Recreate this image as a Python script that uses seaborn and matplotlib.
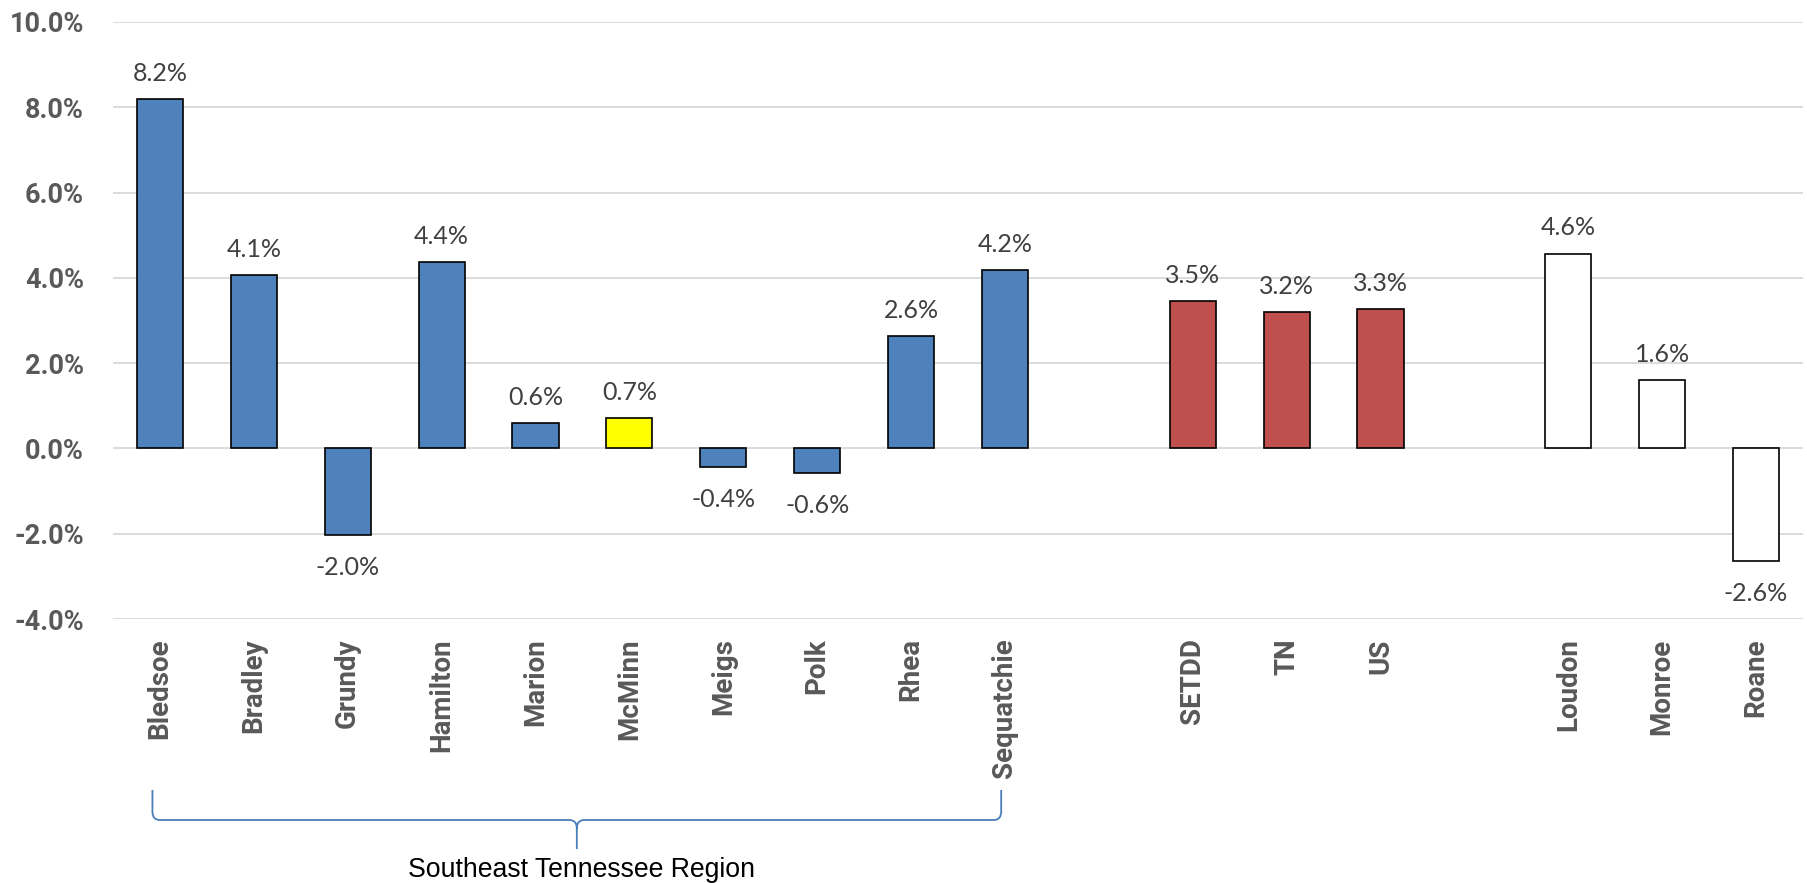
import matplotlib
matplotlib.use("Agg")
import matplotlib.pyplot as plt
from matplotlib.path import Path
from matplotlib.patches import PathPatch
import seaborn as sns
import pandas as pd

# ---- data ----
names = ["Bledsoe", "Bradley", "Grundy", "Hamilton", "Marion", "McMinn", "Meigs",
         "Polk", "Rhea", "Sequatchie", "SETDD", "TN", "US", "Loudon", "Monroe", "Roane"]
values = [8.2, 4.06, -2.02, 4.38, 0.6, 0.71, -0.44, -0.57, 2.63, 4.19,
          3.46, 3.19, 3.28, 4.57, 1.6, -2.64]
labels = ["8.2%", "4.1%", "-2.0%", "4.4%", "0.6%", "0.7%", "-0.4%", "-0.6%", "2.6%", "4.2%",
          "3.5%", "3.2%", "3.3%", "4.6%", "1.6%", "-2.6%"]
groups = ["region"] * 5 + ["mcminn"] + ["region"] * 4 + ["compare"] * 3 + ["neighbor"] * 3
order = names[:10] + ["_gap1"] + names[10:13] + ["_gap2"] + names[13:]
tick_labels = [n if not n.startswith("_gap") else "" for n in order]
yticks = [-4, -2, 0, 2, 4, 6, 8, 10]
bracket_label = "Southeast Tennessee Region"

group_colors = {"region": "#4F81BD", "mcminn": "#FFFF00", "compare": "#C0504D", "neighbor": "#FFFFFF"}

df = pd.DataFrame({"name": names, "value": values, "group": groups})
palette = {n: group_colors[g] for n, g in zip(names, groups)}

sns.set_theme(style="white")
plt.rcParams["font.family"] = ["Lato", "DejaVu Sans"]

fig = plt.figure(figsize=(18.08, 8.83), dpi=100)
W, H = 1808, 883
ax = fig.add_axes([113 / W, 1 - 619 / H, (1803 - 113) / W, (619 - 22) / H])

sns.barplot(data=df, x="name", y="value", hue="name", order=order, palette=palette,
            width=0.49, legend=False, ax=ax, edgecolor="black", linewidth=1.2,
            saturation=1)

tick_font = ["Roboto", "DejaVu Sans"]
ax.set_xlim(-0.5, len(order) - 0.5)
ax.set_ylim(-4, 10)
ax.set_yticks(yticks)
ax.set_yticklabels([f"{v:.1f}%" for v in yticks], fontsize=19.5, fontweight="bold", color="#595959",
                   family=tick_font)
ax.set_xticks(range(len(order)))
ax.set_xticklabels(tick_labels, rotation=90, fontsize=20, fontweight="bold", color="#595959",
                   va="top", ha="center", family=tick_font)
ax.tick_params(axis="y", length=0, pad=21)
ax.tick_params(axis="x", length=0, pad=14)
ax.set_xlabel("")
ax.set_ylabel("")
for s in ax.spines.values():
    s.set_visible(False)
ax.yaxis.grid(True, color="#D9D9D9", linewidth=1.3)
ax.xaxis.grid(False)
ax.set_axisbelow(True)

# data labels
for n, v, lab in zip(names, values, labels):
    xi = order.index(n)
    if v >= 0:
        ax.annotate(lab, (xi, v), xytext=(0, 13), textcoords="offset points",
                    ha="center", va="baseline", fontsize=18, color="#404040")
    else:
        ax.annotate(lab, (xi, v), xytext=(0, -29), textcoords="offset points",
                    ha="center", va="baseline", fontsize=18, color="#404040")

# bracket under the Southeast Tennessee Region counties
trans = ax.get_xaxis_transform()
x0, x1 = -0.08, 8.96
xm = (x0 + x1) / 2
ytop, yh, ytip = -0.2864, -0.3367, -0.3853
rx, ry = 0.08, 0.014
verts = [(x0, ytop), (x0, yh + ry), (x0, yh), (x0 + rx, yh), (xm - rx, yh), (xm, yh), (xm, yh - ry), (xm, ytip),
         (x1, ytop), (x1, yh + ry), (x1, yh), (x1 - rx, yh), (xm + rx, yh), (xm, yh), (xm, yh - ry)]
codes = [Path.MOVETO, Path.LINETO, Path.CURVE3, Path.CURVE3, Path.LINETO, Path.CURVE3, Path.CURVE3, Path.LINETO,
         Path.MOVETO, Path.LINETO, Path.CURVE3, Path.CURVE3, Path.LINETO, Path.CURVE3, Path.CURVE3]
patch = PathPatch(Path(verts, codes), transform=trans, fill=False, edgecolor="#4A7EBB",
                  linewidth=1.3, clip_on=False)
ax.add_patch(patch)
ax.text(xm + 0.05, -0.42, bracket_label, transform=trans, ha="center", va="center",
        fontsize=19.2, color="black", family=["Liberation Sans", "DejaVu Sans"])

fig.savefig("out.png", dpi=100)
